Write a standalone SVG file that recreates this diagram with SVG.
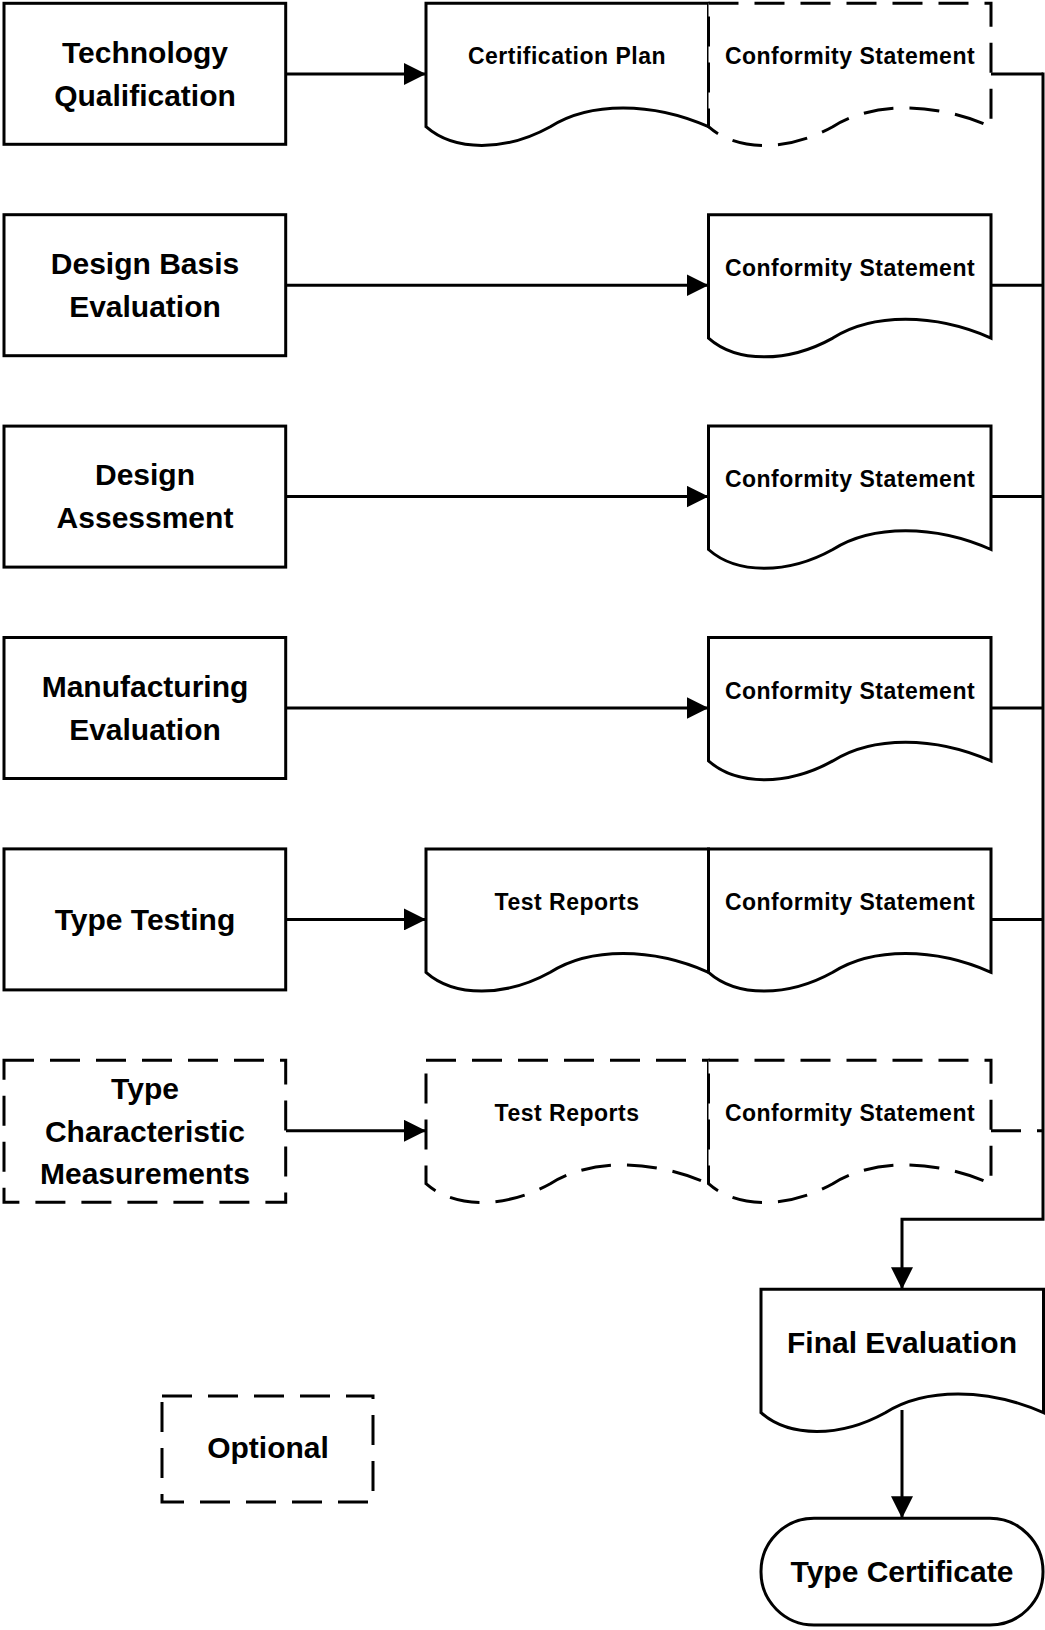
<svg xmlns="http://www.w3.org/2000/svg" xmlns:xlink="http://www.w3.org/1999/xlink" width="1045" height="1630" viewBox="0 0 1045 1630">
<style>
.box{fill:#fff;stroke:#000;stroke-width:3}
.dash{stroke-dasharray:30 16}
.ln{fill:none;stroke:#000;stroke-width:3}
.big{font-family:"Liberation Sans",Arial,sans-serif;font-weight:bold;font-size:30px;fill:#000;text-anchor:middle}
.sm{font-family:"Liberation Sans",Arial,sans-serif;font-weight:bold;font-size:23px;letter-spacing:0.5px;fill:#000;text-anchor:middle}
</style>
<defs>
<path id="doc" d="M0,0 H282.5 V123.4 C226,98.4 163.85,98.4 124.3,123.4 C79.1,148.4 28.25,148.4 0,123.4 Z"/>
<marker id="ah" markerUnits="userSpaceOnUse" markerWidth="22" markerHeight="22" refX="22" refY="11" orient="auto">
<path d="M0,0 L22,11 L0,22 Z" fill="#000"/>
</marker>
</defs>
<rect width="1045" height="1630" fill="#fff"/>

<g id="connectors">
<path class="ln" d="M286,74 H426" marker-end="url(#ah)"/>
<path class="ln" d="M286,285.2 H708.5" marker-end="url(#ah)"/>
<path class="ln" d="M286,496.6 H708.5" marker-end="url(#ah)"/>
<path class="ln" d="M286,708 H708.5" marker-end="url(#ah)"/>
<path class="ln" d="M286,919.4 H426" marker-end="url(#ah)"/>
<path class="ln" d="M286,1130.8 H426" marker-end="url(#ah)"/>
<path class="ln" d="M991,74 H1043"/>
<path class="ln" d="M991,285.2 H1043"/>
<path class="ln" d="M991,496.6 H1043"/>
<path class="ln" d="M991,708 H1043"/>
<path class="ln" d="M991,919.4 H1043"/>
<path class="ln dash" d="M991,1130.8 H1043"/>
<path class="ln" d="M1043,72.5 V1219.3 H902 V1289.3" marker-end="url(#ah)"/>
<path class="ln" d="M902,1410 V1518.3" marker-end="url(#ah)"/>
</g>

<g id="n-techqual">
<rect class="box" x="4" y="3.3" width="281.7" height="141"/>
<text class="big" x="145" y="62.5">Technology</text>
<text class="big" x="145" y="105.5">Qualification</text>
</g>
<g id="n-certplan">
<use href="#doc" xlink:href="#doc" class="box" x="426" y="3.3"/>
<text class="sm" x="567" y="64.3">Certification Plan</text>
</g>
<g id="n-conf1">
<use href="#doc" xlink:href="#doc" class="box dash" x="708.5" y="3.3"/>
<text class="sm" x="850" y="64.3">Conformity Statement</text>
</g>

<g id="n-designbasis">
<rect class="box" x="4" y="214.7" width="281.7" height="141"/>
<text class="big" x="145" y="273.9">Design Basis</text>
<text class="big" x="145" y="316.9">Evaluation</text>
</g>
<g id="n-conf2">
<use href="#doc" xlink:href="#doc" class="box" x="708.5" y="214.7"/>
<text class="sm" x="850" y="275.7">Conformity Statement</text>
</g>

<g id="n-designassess">
<rect class="box" x="4" y="426.1" width="281.7" height="141"/>
<text class="big" x="145" y="485.3">Design</text>
<text class="big" x="145" y="528.3">Assessment</text>
</g>
<g id="n-conf3">
<use href="#doc" xlink:href="#doc" class="box" x="708.5" y="426.1"/>
<text class="sm" x="850" y="487.1">Conformity Statement</text>
</g>

<g id="n-manuf">
<rect class="box" x="4" y="637.5" width="281.7" height="141"/>
<text class="big" x="145" y="696.7">Manufacturing</text>
<text class="big" x="145" y="739.7">Evaluation</text>
</g>
<g id="n-conf4">
<use href="#doc" xlink:href="#doc" class="box" x="708.5" y="637.5"/>
<text class="sm" x="850" y="698.5">Conformity Statement</text>
</g>

<g id="n-typetesting">
<rect class="box" x="4" y="848.9" width="281.7" height="141"/>
<text class="big" x="145" y="930">Type Testing</text>
</g>
<g id="n-testreports5">
<use href="#doc" xlink:href="#doc" class="box" x="426" y="848.9"/>
<text class="sm" x="567" y="909.9">Test Reports</text>
</g>
<g id="n-conf5">
<use href="#doc" xlink:href="#doc" class="box" x="708.5" y="848.9"/>
<text class="sm" x="850" y="909.9">Conformity Statement</text>
</g>

<g id="n-typechar">
<rect class="box dash" x="4" y="1060.3" width="281.7" height="142"/>
<text class="big" x="145" y="1099">Type</text>
<text class="big" x="145" y="1142">Characteristic</text>
<text class="big" x="145" y="1184">Measurements</text>
</g>
<g id="n-testreports6">
<use href="#doc" xlink:href="#doc" class="box dash" x="426" y="1060.3"/>
<text class="sm" x="567" y="1121.3">Test Reports</text>
</g>
<g id="n-conf6">
<use href="#doc" xlink:href="#doc" class="box dash" x="708.5" y="1060.3"/>
<text class="sm" x="850" y="1121.3">Conformity Statement</text>
</g>

<g id="n-final">
<use href="#doc" xlink:href="#doc" class="box" x="761" y="1289.3"/>
<text class="big" x="902" y="1353.3">Final Evaluation</text>
</g>
<g id="n-typecert">
<rect class="box" x="761" y="1518.3" width="282" height="106.7" rx="53" ry="53"/>
<text class="big" x="902" y="1581.7">Type Certificate</text>
</g>

<g id="n-optional">
<rect class="box dash" x="162" y="1396" width="211" height="106"/>
<text class="big" x="268" y="1458">Optional</text>
</g>
</svg>
